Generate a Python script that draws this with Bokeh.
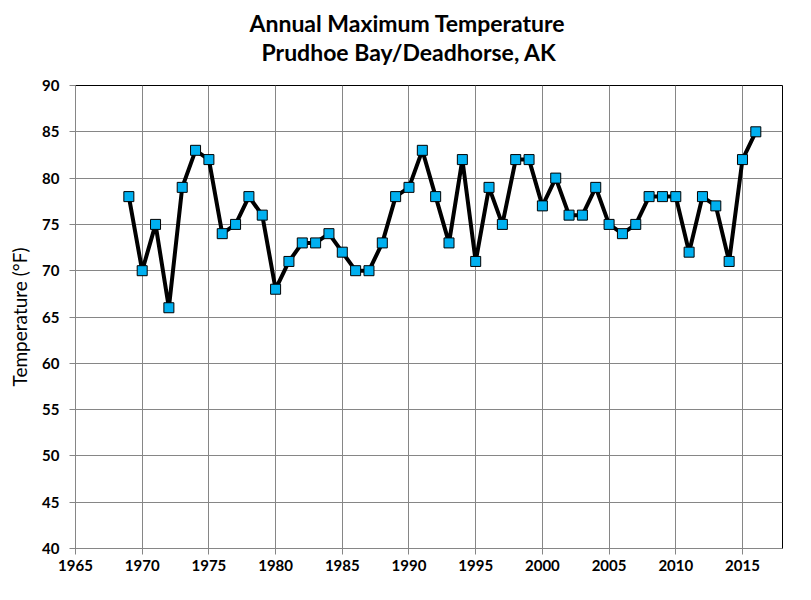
from bokeh.plotting import figure
from bokeh.models import Title, FixedTicker, Range1d
from bokeh.embed import file_html
from bokeh.resources import INLINE

years = list(range(1969, 2017))
temps = [78, 70, 75, 66, 79, 83, 82, 74, 75, 78, 76, 68, 71, 73, 73, 74, 72, 70, 70, 73,
         78, 79, 83, 78, 73, 82, 71, 79, 75, 82, 82, 77, 80, 76, 76, 79, 75, 74, 75, 78,
         78, 78, 72, 78, 77, 71, 82, 85]
x_ticks = list(range(1965, 2016, 5))
y_ticks = list(range(40, 91, 5))
title_lines = ["Annual Maximum Temperature", "Prudhoe Bay/Deadhorse, AK"]
y_label = "Temperature (°F)"

FONT = "Lato"

p = figure(width=795, height=584, output_backend="svg", toolbar_location=None,
           x_range=Range1d(1965, 2018), y_range=Range1d(40, 90),
           min_border_left=75, min_border_right=13, min_border_top=85, min_border_bottom=36)

# spacer between frame and the title lines
spacer = Title(text="\u00a0", text_font_size="2px", standoff=16)
t2 = Title(text=title_lines[1], align="left", text_font=FONT, text_font_size="23px",
           text_font_style="bold", text_color="black", standoff=0, offset=186)
t1 = Title(text=title_lines[0], align="left", text_font=FONT, text_font_size="23px",
           text_font_style="bold", text_color="black", standoff=-3, offset=174)
p.add_layout(spacer, "above")
p.add_layout(t2, "above")
p.add_layout(t1, "above")

p.outline_line_color = "black"
p.outline_line_width = 1

for ax in (p.xaxis, p.yaxis):
    ax.axis_line_color = "#868686"
    ax.major_tick_line_color = "#868686"
    ax.major_tick_out = 6
    ax.major_tick_in = 0
    ax.minor_tick_line_color = None
    ax.major_label_text_font = FONT
    ax.major_label_text_font_size = "15px"
    ax.major_label_text_font_style = "bold"
    ax.major_label_text_color = "black"

p.xaxis.ticker = FixedTicker(ticks=x_ticks)
p.yaxis.ticker = FixedTicker(ticks=y_ticks)
p.xaxis.major_label_standoff = 5
p.yaxis.major_label_standoff = 10
p.yaxis.axis_label = y_label
p.yaxis.axis_label_text_font = FONT
p.yaxis.axis_label_text_font_size = "19px"
p.yaxis.axis_label_text_font_style = "normal"
p.yaxis.axis_label_text_color = "black"
p.yaxis.axis_label_standoff = 8

p.xgrid.ticker = FixedTicker(ticks=x_ticks)
p.ygrid.ticker = FixedTicker(ticks=y_ticks)
for g in (p.xgrid, p.ygrid):
    g.grid_line_color = "#868686"
    g.grid_line_width = 1

p.line(years, temps, line_color="black", line_width=4)
p.scatter(years, temps, marker="square", size=10, fill_color="#00B0F0",
          line_color="black", line_width=1)

open("out.html", "w").write(file_html(p, INLINE))
